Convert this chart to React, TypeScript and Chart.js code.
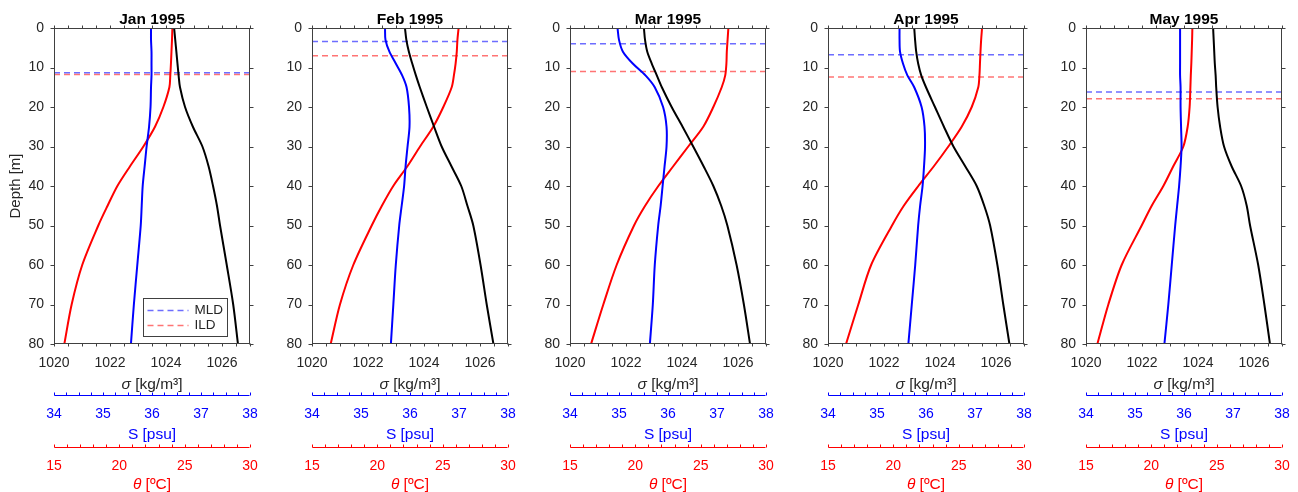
import React, { useEffect, useRef } from 'react';
import { Chart, registerables } from 'chart.js';

Chart.register(...registerables);

// ---------------- data ----------------
const depths = [0, 3, 6, 9, 12, 15, 20, 25, 30, 35, 40, 45, 50, 60, 70, 80];
const monthTitles = ['Jan 1995', 'Feb 1995', 'Mar 1995', 'Apr 1995', 'May 1995'];

const janSigma = [1024.29, 1024.33, 1024.37, 1024.41, 1024.45, 1024.5, 1024.68, 1024.96, 1025.3, 1025.52, 1025.68, 1025.82, 1025.93, 1026.17, 1026.4, 1026.57];
const janSalt = [35.98, 35.98, 35.99, 35.99, 35.99, 35.98, 35.97, 35.94, 35.89, 35.85, 35.81, 35.79, 35.77, 35.7, 35.63, 35.57];
const janTheta = [24.06, 24.03, 23.99, 23.95, 23.9, 23.83, 23.37, 22.73, 21.84, 20.82, 19.85, 19.1, 18.39, 17.16, 16.35, 15.79];

const febSigma = [1023.32, 1023.37, 1023.46, 1023.58, 1023.71, 1023.85, 1024.1, 1024.36, 1024.63, 1024.98, 1025.33, 1025.55, 1025.76, 1026.02, 1026.24, 1026.48];
const febSalt = [35.49, 35.5, 35.58, 35.71, 35.84, 35.93, 35.98, 35.99, 35.95, 35.91, 35.88, 35.83, 35.78, 35.71, 35.66, 35.61];
const febTheta = [26.22, 26.13, 26.08, 25.99, 25.86, 25.69, 25.05, 24.28, 23.27, 22.3, 21.22, 20.35, 19.57, 18.16, 17.14, 16.43];

const marSigma = [1022.64, 1022.68, 1022.76, 1022.92, 1023.1, 1023.28, 1023.63, 1024.02, 1024.4, 1024.77, 1025.12, 1025.4, 1025.62, 1025.95, 1026.21, 1026.43];
const marSalt = [34.97, 35.0, 35.08, 35.28, 35.54, 35.73, 35.9, 35.97, 35.97, 35.93, 35.89, 35.85, 35.8, 35.73, 35.69, 35.63];
const marTheta = [27.12, 27.06, 27.0, 26.97, 26.88, 26.61, 25.97, 25.2, 24.05, 22.9, 21.76, 20.75, 19.9, 18.57, 17.55, 16.61];

const aprSigma = [1023.08, 1023.11, 1023.15, 1023.22, 1023.33, 1023.5, 1023.82, 1024.14, 1024.48, 1024.9, 1025.31, 1025.58, 1025.79, 1026.05, 1026.26, 1026.48];
const aprSalt = [35.46, 35.46, 35.47, 35.53, 35.62, 35.76, 35.91, 35.97, 35.98, 35.96, 35.93, 35.88, 35.84, 35.78, 35.71, 35.64];
const aprTheta = [26.79, 26.72, 26.67, 26.63, 26.59, 26.5, 26.0, 25.23, 24.21, 23.1, 21.91, 20.8, 19.9, 18.3, 17.32, 16.38];

const maySigma = [1024.54, 1024.56, 1024.58, 1024.6, 1024.63, 1024.65, 1024.7, 1024.79, 1024.93, 1025.2, 1025.54, 1025.74, 1025.86, 1026.15, 1026.37, 1026.57];
const maySalt = [35.92, 35.92, 35.92, 35.92, 35.92, 35.93, 35.93, 35.94, 35.95, 35.93, 35.9, 35.86, 35.82, 35.75, 35.68, 35.6];
const mayTheta = [23.14, 23.12, 23.09, 23.06, 23.02, 22.99, 22.93, 22.78, 22.45, 21.68, 20.92, 20.03, 19.26, 17.73, 16.71, 15.87];

const sigmaSeries = [janSigma, febSigma, marSigma, aprSigma, maySigma];
const saltSeries = [janSalt, febSalt, marSalt, aprSalt, maySalt];
const thetaSeries = [janTheta, febTheta, marTheta, aprTheta, mayTheta];

const mldDepths = [11.3, 3.4, 4.0, 6.8, 16.2];
const ildDepths = [11.8, 7.0, 11.0, 12.4, 17.9];

const depthTicks = [0, 10, 20, 30, 40, 50, 60, 70, 80];
const sigmaTicks = [1020, 1022, 1024, 1026];
const saltTicks = [34, 35, 36, 37, 38];
const thetaTicks = [15, 20, 25, 30];

const SIG_RANGE = [1020, 1027];
const SALT_RANGE = [34, 38];
const THETA_RANGE = [15, 30];
const DEPTH_RANGE = [0, 80];

// ---------------- style ----------------
const FONT = "'Liberation Sans', Arial, Helvetica, sans-serif";
const TEXT = '#262626';
const AXIS = '#404040';
const BLUE = '#0000ff';
const RED = '#ff0000';
const MLD_COLOR = 'rgba(60,60,255,0.75)';
const ILD_COLOR = 'rgba(255,70,70,0.75)';
const TICK_LEN = 3;

const PLOT_LEFTS = [54, 312, 570, 828, 1086];
const PLOT_W = 196;
const Y_W = [54, 40, 40, 40, 40];
const PAD_R = 10;
const H = 492;

function drawMixed(ctx: CanvasRenderingContext2D, parts: [string, string][], cx: number, cy: number, size: number, color: string) {
  ctx.fillStyle = color;
  ctx.textBaseline = 'middle';
  ctx.textAlign = 'left';
  let total = 0;
  const widths = parts.map(([t, st]) => {
    ctx.font = `${st} ${size}px ${FONT}`;
    const w = ctx.measureText(t).width;
    total += w;
    return w;
  });
  let x = cx - total / 2;
  parts.forEach(([t, st], i) => {
    ctx.font = `${st} ${size}px ${FONT}`;
    ctx.fillText(t, x, cy);
    x += widths[i];
  });
}

function makeDecor(idx: number) {
  return {
    id: 'decor' + idx,
    afterDraw(chart: any) {
      const { ctx, chartArea: a, scales } = chart;
      const sx = scales.x, ss = scales.xS, st = scales.xT, sy = scales.y;
      const L = Math.round(a.left) + 0.5;
      const R = Math.round(a.right) - 0.5;
      const T = Math.round(a.top) + 0.5;
      const B = Math.round(a.bottom) - 0.5;
      const line = (x1: number, y1: number, x2: number, y2: number) => {
        ctx.beginPath(); ctx.moveTo(x1, y1); ctx.lineTo(x2, y2); ctx.stroke();
      };
      ctx.save();
      ctx.lineWidth = 1;
      ctx.strokeStyle = AXIS;
      ctx.strokeRect(L, T, R - L, B - T);
      // outward ticks on the box
      for (let v = SIG_RANGE[0]; v <= SIG_RANGE[1] + 1e-9; v += 0.5) {
        const px = Math.round(sx.getPixelForValue(v)) + 0.5;
        line(px, T, px, T - TICK_LEN);
        line(px, B, px, B + TICK_LEN);
      }
      for (const d of depthTicks) {
        const py = Math.round(sy.getPixelForValue(d)) + 0.5;
        line(L, py, L - TICK_LEN - 1, py);
        line(R, py, R + TICK_LEN + 1, py);
      }
      // salinity axis
      const yS = Math.round(ss.top) + 0.5;
      ctx.strokeStyle = BLUE;
      line(L, yS, R, yS);
      for (let v = SALT_RANGE[0]; v <= SALT_RANGE[1] + 1e-9; v += 0.25) {
        const px = Math.round(ss.getPixelForValue(v)) + 0.5;
        line(px, yS, px, yS - TICK_LEN);
      }
      // theta axis
      const yT = Math.round(st.top) + 0.5;
      ctx.strokeStyle = RED;
      line(L, yT, R, yT);
      for (let v = THETA_RANGE[0]; v <= THETA_RANGE[1] + 1e-9; v += 1) {
        const px = Math.round(st.getPixelForValue(v)) + 0.5;
        line(px, yT, px, yT - TICK_LEN);
      }
      const cx = (a.left + a.right) / 2;
      // title
      ctx.fillStyle = '#000';
      ctx.font = `bold 15.5px ${FONT}`;
      ctx.textAlign = 'center';
      ctx.textBaseline = 'middle';
      ctx.fillText(monthTitles[idx], cx, a.top - 8.5);
      // axis labels
      drawMixed(ctx, [['σ', 'italic'], [' [kg/m³]', 'normal']], cx, sx.bottom - 10, 15.5, TEXT);
      drawMixed(ctx, [['S [psu]', 'normal']], cx, ss.bottom - 12, 15.5, BLUE);
      drawMixed(ctx, [['θ', 'italic'], [' [ºC]', 'normal']], cx, st.bottom - 7, 15.5, RED);
      if (idx === 0) {
        ctx.save();
        ctx.translate(16, (a.top + a.bottom) / 2);
        ctx.rotate(-Math.PI / 2);
        ctx.fillStyle = TEXT;
        ctx.font = `15px ${FONT}`;
        ctx.textAlign = 'center';
        ctx.textBaseline = 'middle';
        ctx.fillText('Depth [m]', 0, 0);
        ctx.restore();
        // legend
        const bw = 84, bh = 38;
        const bx = Math.round(a.right - 23 - bw) + 0.5;
        const by = Math.round(a.bottom - 8 - bh) + 0.5;
        ctx.fillStyle = '#fff';
        ctx.fillRect(bx, by, bw, bh);
        ctx.strokeStyle = AXIS;
        ctx.lineWidth = 1;
        ctx.strokeRect(bx, by, bw, bh);
        const items: [string, string][] = [['MLD', MLD_COLOR], ['ILD', ILD_COLOR]];
        items.forEach(([lab, col], i) => {
          const yy = by + 12 + i * 15;
          ctx.save();
          ctx.strokeStyle = col;
          ctx.lineWidth = 1.5;
          ctx.setLineDash([6, 4]);
          line(bx + 4, yy, bx + 45, yy);
          ctx.restore();
          ctx.fillStyle = TEXT;
          ctx.font = `13.5px ${FONT}`;
          ctx.textAlign = 'left';
          ctx.textBaseline = 'middle';
          ctx.fillText(lab, bx + 51, yy);
        });
      }
      ctx.restore();
    },
  };
}

function xAxis(range: number[], ticks: number[], color: string, height: number, pad: number, weight: number) {
  return {
    type: 'linear',
    axis: 'x',
    position: 'bottom',
    weight,
    min: range[0],
    max: range[1],
    grid: { display: false, drawTicks: false },
    border: { display: false },
    ticks: {
      color,
      padding: pad,
      autoSkip: false,
      maxRotation: 0,
      font: { family: FONT, size: 14 },
      callback: (v: any) => String(v),
    },
    afterBuildTicks: (s: any) => { s.ticks = ticks.map((v) => ({ value: v })); },
    afterFit: (s: any) => { s.height = height; s.paddingLeft = 0; s.paddingRight = 0; },
  };
}

function Panel({ idx }: { idx: number }) {
  const ref = useRef<HTMLCanvasElement | null>(null);
  const w = Y_W[idx] + PLOT_W + PAD_R;
  useEffect(() => {
    if (!ref.current) return;
    const toPts = (vals: number[]) => vals.map((v, i) => ({ x: v, y: depths[i] }));
    const hLine = (d: number) => [{ x: SIG_RANGE[0], y: d }, { x: SIG_RANGE[1], y: d }];
    const chart = new Chart(ref.current, {
      type: 'line',
      data: {
        datasets: [
          { label: 'sigma', data: toPts(sigmaSeries[idx]), xAxisID: 'x', yAxisID: 'y', borderColor: '#000', borderWidth: 2, pointRadius: 0, tension: 0.3 },
          { label: 'S', data: toPts(saltSeries[idx]), xAxisID: 'xS', yAxisID: 'y', borderColor: BLUE, borderWidth: 2, pointRadius: 0, tension: 0.3 },
          { label: 'theta', data: toPts(thetaSeries[idx]), xAxisID: 'xT', yAxisID: 'y', borderColor: RED, borderWidth: 2, pointRadius: 0, tension: 0.3 },
          { label: 'MLD', data: hLine(mldDepths[idx]), xAxisID: 'x', yAxisID: 'y', borderColor: MLD_COLOR, borderWidth: 1.5, borderDash: [6, 4], pointRadius: 0, tension: 0 },
          { label: 'ILD', data: hLine(ildDepths[idx]), xAxisID: 'x', yAxisID: 'y', borderColor: ILD_COLOR, borderWidth: 1.5, borderDash: [6, 4], pointRadius: 0, tension: 0 },
        ],
      } as any,
      options: {
        responsive: false,
        animation: false,
        events: [],
        layout: { padding: { top: 28, right: PAD_R, left: 0, bottom: 0 }, autoPadding: false },
        plugins: { legend: { display: false }, tooltip: { enabled: false }, title: { display: false } },
        scales: {
          x: xAxis(SIG_RANGE, sigmaTicks, TEXT, 51, 11, 0),
          xS: xAxis(SALT_RANGE, saltTicks, BLUE, 52, 11, 1),
          xT: xAxis(THETA_RANGE, thetaTicks, RED, 45, 11, 2),
          y: {
            type: 'linear',
            position: 'left',
            reverse: true,
            min: DEPTH_RANGE[0],
            max: DEPTH_RANGE[1],
            grid: { display: false, drawTicks: false },
            border: { display: false },
            ticks: { color: TEXT, padding: 10, autoSkip: false, font: { family: FONT, size: 14 }, callback: (v: any) => String(v) },
            afterBuildTicks: (s: any) => { s.ticks = depthTicks.map((v) => ({ value: v })); },
            afterFit: (s: any) => { s.width = Y_W[idx]; s.paddingTop = 0; s.paddingBottom = 0; },
          },
        } as any,
      },
      plugins: [makeDecor(idx)],
    });
    return () => chart.destroy();
  }, [idx]);
  return (
    <canvas
      ref={ref}
      width={w}
      height={H}
      style={{ position: 'absolute', left: PLOT_LEFTS[idx] - Y_W[idx], top: 0, width: w, height: H }}
    />
  );
}

export default function App() {
  return (
    <div style={{ position: 'absolute', left: 0, top: 0, width: 1298, height: H, background: '#fff' }}>
      {monthTitles.map((_, i) => (
        <Panel key={i} idx={i} />
      ))}
    </div>
  );
}
